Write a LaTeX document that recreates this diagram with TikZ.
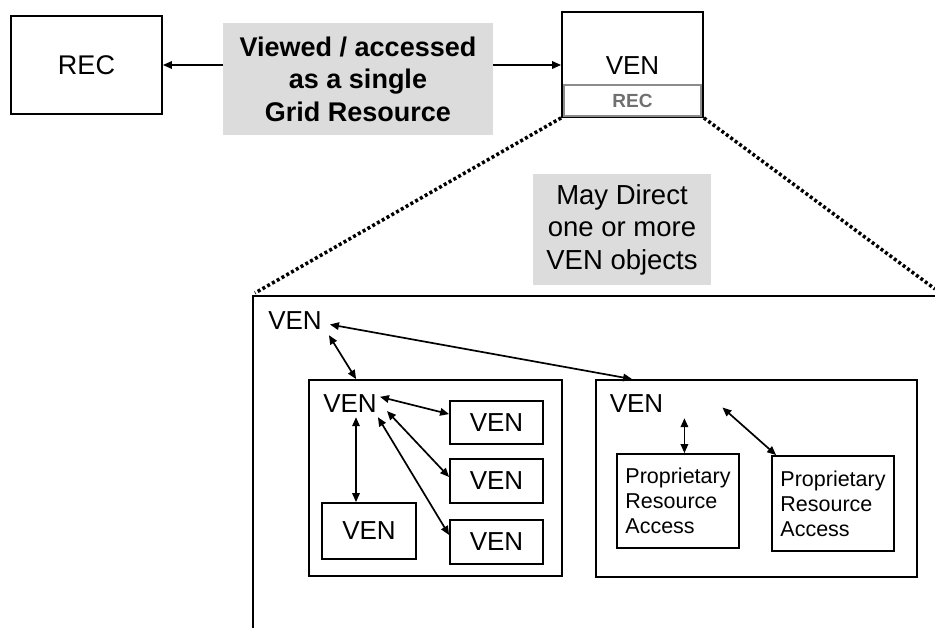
\documentclass[tikz,border=0pt]{standalone}
\usepackage{fontspec}
\setmainfont{Liberation Sans}
\usetikzlibrary{arrows.meta,calc}
\definecolor{boxgray}{HTML}{DCDCDC}
\definecolor{recgray}{HTML}{707070}
\definecolor{linegray}{HTML}{8C8C8C}
\begin{document}
\begin{tikzpicture}[x=1pt,y=-1pt,
  box/.style={draw,line width=1.8pt,inner sep=0pt},
  greybox/.style={fill=boxgray,inner sep=0pt,align=center},
  venfont/.style={font=\fontsize{26}{30}\selectfont},
  venlbl/.style={venfont,inner sep=2pt,text height=19pt,text depth=0pt,anchor=base},
  prafont/.style={font=\fontsize{21.5}{25}\selectfont,align=left},
  dbl/.style={line width=1.7pt,{Triangle[length=9pt,width=7.5pt]}-{Triangle[length=9pt,width=7.5pt]}},
  sgl/.style={line width=1.7pt,-{Triangle[length=9pt,width=7.5pt]}},
  dotline/.style={line width=3.5pt,dash pattern=on 3pt off 2.5pt}
]
\useasboundingbox (0,0) rectangle (935,628);

% top row
\node[box,minimum width=151pt,minimum height=98pt,font=\fontsize{27}{32}\selectfont] (rec) at (86.5,65) {REC};
\node[greybox,minimum width=270pt,minimum height=112pt,font=\bfseries\fontsize{27}{32.5}\selectfont] (res) at (358,79) {Viewed / accessed\\as a single\\Grid Resource};
\node[box,minimum width=141pt,minimum height=105pt] (venbox) at (632.5,64.5) {};
\node[draw=linegray,line width=1.8pt,minimum width=137pt,minimum height=31pt,inner sep=0pt,font=\bfseries\fontsize{19}{22}\selectfont,text=recgray] (recin) at (632.5,100.5) {REC};
\node[venlbl] (venlbl) at (632.5,75) {VEN};

\draw[sgl] (res.west |- rec.east) -- (rec.east);
\draw[sgl] (res.east |- rec.east) -- (venbox.west |- rec.east);

% zoom frame
\coordinate (framecorner) at (253,296);
\coordinate (framebottom) at (253,628);
\coordinate (frameright) at (935,296);
\coordinate (dotright) at (935,289);
\draw[line width=1.8pt] (framebottom) -- (framecorner) -- (frameright);
\draw[dotline] (venbox.south west) -- ($(framecorner)+(2,-3)$);
\draw[dotline] (venbox.south east) -- (dotright);

\node[greybox,minimum width=178pt,minimum height=111pt,font=\fontsize{27.5}{32.5}\selectfont] (direct) at (622,229.5) {May Direct\\one or more\\VEN objects};

% inside frame
\node[venlbl] (topven) at (295,330) {VEN};

\node[box,minimum width=253pt,minimum height=196pt] (box1) at (435.5,478) {};
\node[venlbl] (b1ven) at (350,413) {VEN};
\node[box,minimum width=93pt,minimum height=43pt,venfont] (venA) at (496.5,422.5) {VEN};
\node[box,minimum width=93pt,minimum height=44pt,venfont] (venB) at (496.5,481) {VEN};
\node[box,minimum width=93pt,minimum height=44pt,venfont] (venC) at (496.5,542) {VEN};
\node[box,minimum width=94pt,minimum height=56pt,venfont] (venD) at (369,531) {VEN};

\node[box,minimum width=321pt,minimum height=197pt] (box2) at (756.5,478.5) {};
\node[venlbl] (b2ven) at (636.5,413) {VEN};
\node[box,minimum width=122pt,minimum height=94pt,prafont] (pra1) at (678,501) {Proprietary\\Resource\\Access};
\node[box,minimum width=122pt,minimum height=95pt,prafont] (pra2) at (833,503.5) {Proprietary\\Resource\\Access};

% connectors
\draw[dbl] ($(topven.east)+(6,4)$) -- ($(box2.north west)+(37,0)$);
\draw[dbl] ($(topven.south east)+(5,3)$) -- ($(box1.north west)+(48,0)$);
\draw[dbl] ($(b1ven.north east)+(1,5)$) -- ($(venA.north west)+(0,14)$);
\draw[dbl] ($(b1ven.east)+(8,7.5)$) -- ($(venB.west)+(0,-4)$);
\draw[dbl] ($(b1ven.south east)+(-1,2)$) -- ($(venC.west)+(0,-7)$);
\coordinate (a6s) at ($(b1ven.south)+(6,2)$);
\draw[dbl] (a6s) -- (a6s |- venD.north);
\coordinate (a7s) at ($(b2ven.south east)+(19,3)$);
\draw[dbl] (a7s) -- (a7s |- pra1.north);
\draw[dbl] ($(b2ven.east)+(57,4)$) -- ($(pra2.north west)+(5,0)$);
\end{tikzpicture}
\end{document}
